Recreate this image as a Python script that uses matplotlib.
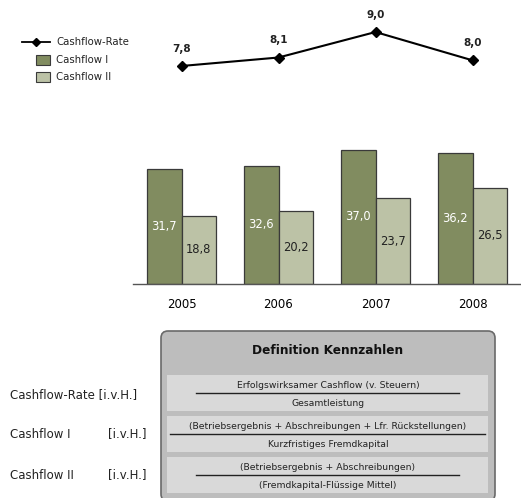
import matplotlib
matplotlib.use("Agg")
import matplotlib.pyplot as plt
from matplotlib.patches import FancyBboxPatch, Rectangle

years = ["2005", "2006", "2007", "2008"]
cashflow_rate = [7.8, 8.1, 9.0, 8.0]
cashflow_1 = [31.7, 32.6, 37.0, 36.2]
cashflow_2 = [18.8, 20.2, 23.7, 26.5]
series_names = ["Cashflow-Rate", "Cashflow I", "Cashflow II"]

kennzahl_unit = "[i.v.H.]"
numerators = ["Erfolgswirksamer Cashflow (v. Steuern)",
              "(Betriebsergebnis + Abschreibungen + Lfr. Rückstellungen)",
              "(Betriebsergebnis + Abschreibungen)"]
denominators = ["Gesamtleistung",
                "Kurzfristiges Fremdkapital",
                "(Fremdkapital-Flüssige Mittel)"]

col_1 = "#818c60"
col_2 = "#bcc2a6"
edge = "#3a3a3a"

W, H = 521, 498
fig = plt.figure(figsize=(W / 100, H / 100), dpi=100)


def px_axes(x0, y0, x1, y1):
    # axes placed by pixel box (top-left origin)
    return fig.add_axes([x0 / W, 1 - y1 / H, (x1 - x0) / W, (y1 - y0) / H])


# bar chart
axb = px_axes(133, 139, 521, 284)
x = list(range(len(years)))
bw = 0.36
axb.bar([i - bw / 2 for i in x], cashflow_1, bw, color=col_1, edgecolor=edge, linewidth=0.9)
axb.bar([i + bw / 2 for i in x], cashflow_2, bw, color=col_2, edgecolor=edge, linewidth=0.9)
for i in x:
    axb.text(i - bw / 2, cashflow_1[i] / 2, f"{cashflow_1[i]:.1f}".replace(".", ","),
             ha="center", va="center", color="white", fontsize=8.3)
    axb.text(i + bw / 2, cashflow_2[i] / 2, f"{cashflow_2[i]:.1f}".replace(".", ","),
             ha="center", va="center", color="#222222", fontsize=8.3)
axb.set_xlim(-0.5, 3.5)
axb.set_ylim(0, 40)
axb.set_xticks(x)
axb.set_xticklabels(years, fontsize=8.5)
axb.tick_params(axis="x", length=0, pad=10)
axb.set_yticks([])
for s in ["top", "right", "left"]:
    axb.spines[s].set_visible(False)
axb.spines["bottom"].set_color("#555555")
axb.spines["bottom"].set_linewidth(1.0)
axb.patch.set_alpha(0)

# cashflow-rate line
axl = px_axes(133, 20, 521, 90)
axl.plot(x, cashflow_rate, color="black", linewidth=1.5, marker="D", markersize=5.5)
for i in x:
    axl.annotate(f"{cashflow_rate[i]:.1f}".replace(".", ","), (i, cashflow_rate[i]),
                 xytext=(0, 12.5), textcoords="offset points",
                 ha="center", va="center", fontsize=7.5, fontweight="bold", color="#222222")
axl.set_xlim(-0.5, 3.5)
axl.set_ylim(6.952, 9.425)
axl.axis("off")

# overlay in pixel coordinates for legend and definition panel
axd = fig.add_axes([0, 0, 1, 1])
axd.set_xlim(0, W)
axd.set_ylim(H, 0)
axd.axis("off")
axd.patch.set_alpha(0)

# legend
axd.plot([22, 50], [42, 42], color="black", linewidth=1.3)
axd.plot([36], [42], marker="D", color="black", markersize=4.5)
for k, (yc, c) in enumerate([(60, col_1), (77, col_2)]):
    axd.add_patch(Rectangle((36, yc - 5), 14, 10, facecolor=c, edgecolor=edge, linewidth=0.8))
for name, yc in zip(series_names, [42, 60, 77]):
    axd.text(56, yc, name, ha="left", va="center", fontsize=7.3, color="#222222")

# definition panel
axd.add_patch(FancyBboxPatch((161, 331), 334, 170, boxstyle="round,pad=0,rounding_size=7",
                             facecolor="#bdbdbd", edgecolor="#6a6a6a", linewidth=1.2))
axd.text(328, 350, "Definition Kennzahlen", ha="center", va="center",
         fontsize=8.7, fontweight="bold", color="#111111")

row_top = [375, 416, 457]
row_h = 36
line_span = [(196, 459), (170, 485), (196, 459)]
label_y = [395, 434, 475]
for k in range(3):
    y0 = row_top[k]
    axd.add_patch(Rectangle((167, y0), 321, row_h, facecolor="#d9d9d9", edgecolor="none"))
    axd.text(328, y0 + 10, numerators[k], ha="center", va="center", fontsize=6.7, color="#222222")
    axd.plot(line_span[k], [y0 + 18, y0 + 18], color="#222222", linewidth=1.0)
    axd.text(328, y0 + 28, denominators[k], ha="center", va="center", fontsize=6.7, color="#222222")
    if k == 0:
        axd.text(10, label_y[k], series_names[k] + " " + kennzahl_unit,
                 ha="left", va="center", fontsize=8.5, color="#222222")
    else:
        axd.text(10, label_y[k], series_names[k], ha="left", va="center", fontsize=8.5, color="#222222")
        axd.text(108, label_y[k], kennzahl_unit, ha="left", va="center", fontsize=8.5, color="#222222")

fig.savefig("out.png", dpi=100)
